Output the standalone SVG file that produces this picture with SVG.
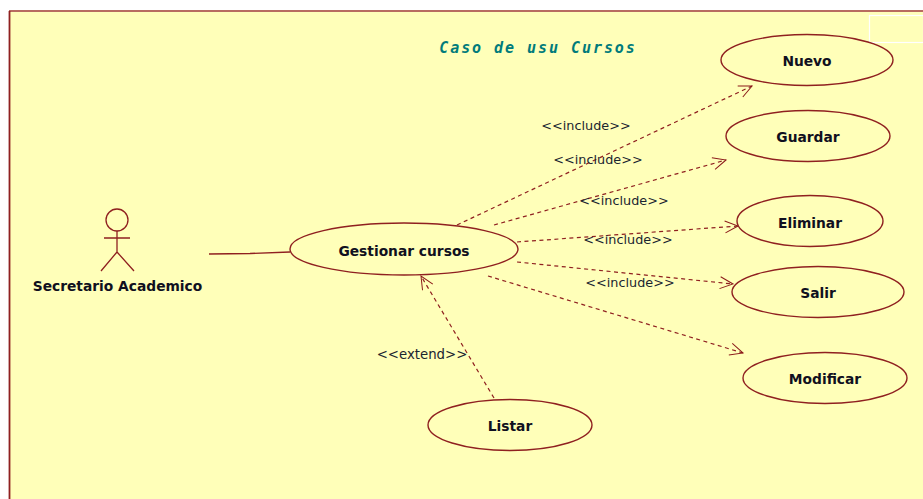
<svg xmlns="http://www.w3.org/2000/svg" width="923" height="499" viewBox="0 0 923 499">
<defs>
<marker id="open" markerUnits="userSpaceOnUse" markerWidth="16" markerHeight="14" refX="14" refY="7" orient="auto"><path d="M1 1L14 7L1 13" fill="none" stroke="#8b1a1a" stroke-width="1"/></marker>
</defs>
<style>
.uc{fill:#ffffb9;stroke:#8f2020;stroke-width:1.4}
.ln{fill:none;stroke:#8f2020;stroke-width:1.3}
.dash{fill:none;stroke:#8f2020;stroke-width:1.2;stroke-dasharray:4 3.500;marker-end:url(#open)}
.nm{font:bold 13.800px "DejaVu Sans",Verdana,sans-serif;fill:#101020;text-anchor:middle}
.st{font:12.800px "DejaVu Sans",Verdana,sans-serif;fill:#1a2530;text-anchor:middle}
</style>
<rect width="923" height="499" fill="#fff"/>
<rect x="9.500" y="11.500" width="914" height="488" fill="#ffffb9"/>
<path d="M9 11H923" stroke="#b86c60" stroke-width="2"/>
<path d="M9.500 11V499" stroke="#8f2020" stroke-width="1.800"/>
<rect x="869.500" y="15.500" width="54" height="27" fill="none" stroke="#fff" stroke-width="1.200"/>
<text id="title" x="538" y="53" text-anchor="middle" font-family="'DejaVu Sans Mono',monospace" font-style="italic" font-weight="bold" font-size="15" letter-spacing="1.950" fill="#007b7b">Caso de usu Cursos</text>
<g id="connectors">
<path class="ln" d="M209 254L250 253.500L290 252"/>
<path class="dash" d="M457 225L752 86"/>
<path class="dash" d="M494 225L726 160"/>
<path class="dash" d="M517 242L738 226"/>
<path class="dash" d="M517 262L733 284"/>
<path class="dash" d="M488 276L743 353"/>
<path class="dash" d="M494 398L421 276"/>
</g>
<g id="actor" class="ln">
<circle cx="117" cy="220" r="11"/>
<path d="M117 231V252M104 238H130M117 252L101 271M117 252L134 271"/>
<text class="nm" x="117.500" y="291" stroke="none">Secretario Academico</text>
</g>
<g id="gestionar"><ellipse class="uc" cx="404" cy="249" rx="114" ry="26"/><text class="nm" x="404" y="256">Gestionar cursos</text></g>
<g id="nuevo"><ellipse class="uc" cx="807" cy="60" rx="86" ry="25.500"/><text class="nm" x="807" y="66">Nuevo</text></g>
<g id="guardar"><ellipse class="uc" cx="808" cy="136" rx="82" ry="25.500"/><text class="nm" x="808" y="142">Guardar</text></g>
<g id="eliminar"><ellipse class="uc" cx="810" cy="221" rx="73" ry="25.500"/><text class="nm" x="810" y="228">Eliminar</text></g>
<g id="salir"><ellipse class="uc" cx="818" cy="292" rx="86" ry="25.500"/><text class="nm" x="818" y="298">Salir</text></g>
<g id="modificar"><ellipse class="uc" cx="825" cy="378" rx="82" ry="25.500"/><text class="nm" x="825" y="384">Modificar</text></g>
<g id="listar"><ellipse class="uc" cx="510" cy="425" rx="82" ry="25.500"/><text class="nm" x="510" y="431">Listar</text></g>
<g id="labels">
<text class="st" x="586" y="130">&lt;&lt;include&gt;&gt;</text>
<text class="st" x="598" y="164">&lt;&lt;include&gt;&gt;</text>
<text class="st" x="624" y="205">&lt;&lt;include&gt;&gt;</text>
<text class="st" x="628" y="244">&lt;&lt;include&gt;&gt;</text>
<text class="st" x="630" y="287">&lt;&lt;include&gt;&gt;</text>
<text class="st" x="422" y="359" style="font-size:13.300px">&lt;&lt;extend&gt;&gt;</text>
</g>
</svg>
